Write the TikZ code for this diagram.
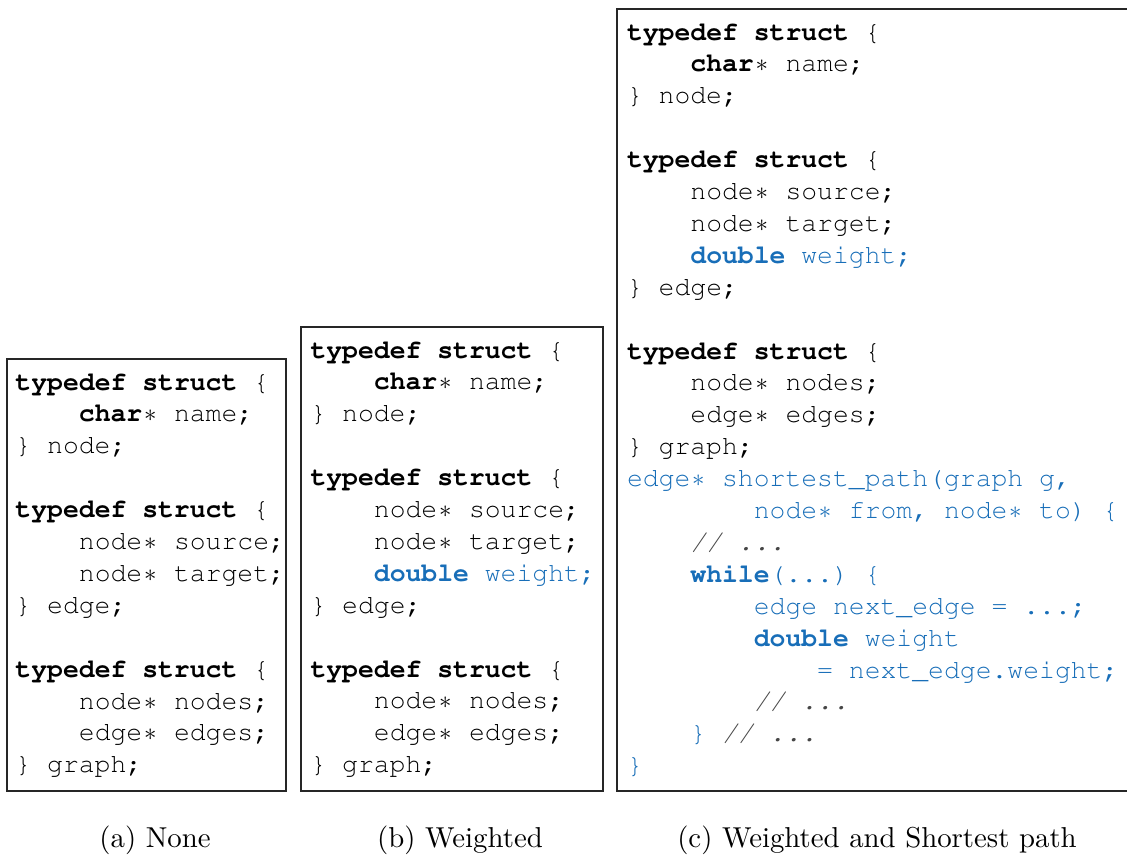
\documentclass[tikz,border=0pt]{standalone}
\usepackage[T1,TU]{fontenc}

\definecolor{codeblue}{RGB}{24,110,184}
\definecolor{codegray}{RGB}{70,70,70}

% Courier for the listings, 0.6em per column
\newcommand\codefont{\fontencoding{T1}\fontfamily{pcr}\fontseries{m}\fontshape{n}\fontsize{26.42}{31.9}\selectfont\frenchspacing}
\newcommand\kw[1]{\textbf{#1}}
\newcommand\bl[1]{\textcolor{codeblue}{#1}}
\newcommand\bk[1]{\textcolor{codeblue}{\textbf{#1}}}
\newcommand\cm[1]{\textcolor{codegray}{\itshape #1}}
\newcommand\st{\makebox[0.6em]{$\ast$}}
\newcommand\ind[1]{\hspace*{\dimexpr#1em*6/10\relax}}
\newcommand\firstline{\rule{0pt}{24pt}}

\tikzset{
  frame/.style={draw=black!85, line width=1.3pt},
  code/.style={anchor=north west, inner sep=0pt, outer sep=0pt, align=left, font=\codefont},
  subcap/.style={anchor=base, inner sep=0pt, scale=2.88, font=\fontsize{10}{12}\selectfont},
}

\begin{document}
\begin{tikzpicture}[x=1pt, y=-1pt]
\useasboundingbox (0,0) rectangle (1127,854);
\clip (0,0) rectangle (1127,854);

% frames
\draw[frame] (7,359) rectangle (286,791);
\draw[frame] (301,327) rectangle (603,791);
\draw[frame] (1140,9) -| (617,791) -- (1140,791);

% (a) no extension
\node[code] (codeA) at (15.5,366) {%
\firstline\kw{typedef} \kw{struct} \{\\
\ind{4}\kw{char}\st{} name;\\
\} node;\\
\mbox{}\\
\kw{typedef} \kw{struct} \{\\
\ind{4}node\st{} source;\\
\ind{4}node\st{} target;\\
\} edge;\\
\mbox{}\\
\kw{typedef} \kw{struct} \{\\
\ind{4}node\st{} nodes;\\
\ind{4}edge\st{} edges;\\
\} graph;};

% (b) weighted edges
\node[code] (codeB) at (310.5,334) {%
\firstline\kw{typedef} \kw{struct} \{\\
\ind{4}\kw{char}\st{} name;\\
\} node;\\
\mbox{}\\
\kw{typedef} \kw{struct} \{\\
\ind{4}node\st{} source;\\
\ind{4}node\st{} target;\\
\ind{4}\bk{double} \bl{weight;}\\
\} edge;\\
\mbox{}\\
\kw{typedef} \kw{struct} \{\\
\ind{4}node\st{} nodes;\\
\ind{4}edge\st{} edges;\\
\} graph;};

% (c) weighted edges and shortest path
\node[code] (codeC) at (627,16) {%
\firstline\kw{typedef} \kw{struct} \{\\
\ind{4}\kw{char}\st{} name;\\
\} node;\\
\mbox{}\\
\kw{typedef} \kw{struct} \{\\
\ind{4}node\st{} source;\\
\ind{4}node\st{} target;\\
\ind{4}\bk{double} \bl{weight;}\\
\} edge;\\
\mbox{}\\
\kw{typedef} \kw{struct} \{\\
\ind{4}node\st{} nodes;\\
\ind{4}edge\st{} edges;\\
\} graph;\\
\bl{edge\st{} shortest\_path(graph g,}\\
\ind{8}\bl{node\st{} from, node\st{} to) \{}\\
\ind{4}\cm{// ...}\\
\ind{4}\bk{while}\bl{(...) \{}\\
\ind{8}\bl{edge next\_edge = ...;}\\
\ind{8}\bk{double} \bl{weight}\\
\ind{12}\bl{= next\_edge.weight;}\\
\ind{8}\cm{// ...}\\
\ind{4}\bl{\}} \cm{// ...}\\
\bl{\}}};

% captions
\node[subcap] (capA) at (155,847) {(a) None};
\node[subcap] (capB) at (460,847) {(b) Weighted};
\node[subcap] (capC) at (877,847) {(c) Weighted and Shortest path};
\end{tikzpicture}
\end{document}
